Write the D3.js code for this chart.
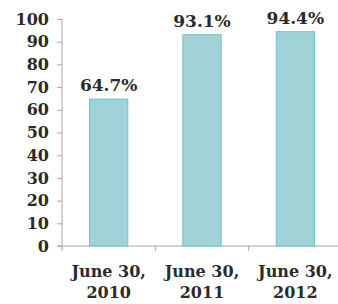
<!DOCTYPE html>
<html>
<head>
<meta charset="utf-8">
<script src="https://cdn.jsdelivr.net/npm/d3@7"></script>
<style>
  body { margin: 0; background: #fff; }
</style>
</head>
<body>
<div id="grafica"></div>
<script>
// datos
fechas  = ['June 30, 2010', 'June 30, 2011', 'June 30, 2012']
lineas  = [['June 30,', '2010'], ['June 30,', '2011'], ['June 30,', '2012']]
valores = [64.7, 93.1, 94.4]
ticksY  = [0, 10, 20, 30, 40, 50, 60, 70, 80, 90, 100]

ancho_total = 338
alto_total  = 304
margin = { left: 62, top: 19 }
ancho = 280
alto  = 227

fuente = 'DejaVu Serif'
colorTexto = '#2b2b2b'

svg = d3.select('#grafica')
  .append('svg')
  .attr('width', ancho_total)
  .attr('height', alto_total)

g = svg.append('g')
  .attr('transform', 'translate(' + margin.left + ',' + margin.top + ')')

x = d3.scaleBand()
  .domain(fechas)
  .range([0, ancho])
  .paddingInner(0.59)
  .paddingOuter(0.295)

y = d3.scaleLinear()
  .domain([0, 100])
  .range([alto, 0])

// eje Y
yAxis = g.append('g')
  .call(d3.axisLeft(y).tickValues(ticksY).tickSize(5).tickPadding(8))
yAxis.select('.domain').attr('stroke', '#a6a6a6').attr('d', 'M0,0V' + (alto + 5))
yAxis.selectAll('.tick line').attr('stroke', '#a6a6a6')
yAxis.selectAll('.tick text')
  .attr('font-family', fuente)
  .attr('font-weight', 'bold')
  .attr('font-size', '16px')
  .attr('fill', colorTexto)

// eje X: linea base y marcas entre categorias
g.append('line')
  .attr('x1', -5).attr('x2', ancho)
  .attr('y1', alto).attr('y2', alto)
  .attr('stroke', '#a6a6a6')

limites = fechas.slice(1).map((d) => x(d) - x.step() * x.paddingInner() / 2)
g.selectAll('.sep')
  .data(limites)
  .enter()
  .append('line')
  .attr('x1', (d) => d).attr('x2', (d) => d)
  .attr('y1', alto).attr('y2', alto + 5)
  .attr('stroke', '#a6a6a6')

// barras
g.selectAll('rect')
  .data(valores)
  .enter()
  .append('rect')
  .attr('x', (d, i) => x(fechas[i]))
  .attr('y', (d) => y(d))
  .attr('width', x.bandwidth())
  .attr('height', (d) => alto - y(d))
  .attr('fill', '#9fd3d7')
  .attr('stroke', '#6ec1c9')

// etiquetas de valor
g.selectAll('.valor')
  .data(valores)
  .enter()
  .append('text')
  .attr('x', (d, i) => x(fechas[i]) + x.bandwidth() / 2)
  .attr('y', (d) => y(d) - 8)
  .attr('text-anchor', 'middle')
  .attr('font-family', fuente)
  .attr('font-weight', 'bold')
  .attr('font-size', '17px')
  .attr('fill', colorTexto)
  .text((d) => d.toFixed(1) + '%')

// etiquetas de categoria
cats = g.selectAll('.cat')
  .data(lineas)
  .enter()
  .append('text')
  .attr('text-anchor', 'middle')
  .attr('font-family', fuente)
  .attr('font-weight', 'bold')
  .attr('font-size', '16px')
  .attr('fill', colorTexto)

cats.selectAll('tspan')
  .data((d, i) => d.map((t) => ({ t: t, i: i })))
  .enter()
  .append('tspan')
  .attr('x', (d) => x(fechas[d.i]) + x.bandwidth() / 2)
  .attr('y', (d, j) => alto + 31 + j * 21)
  .text((d) => d.t)
</script>
</body>
</html>
